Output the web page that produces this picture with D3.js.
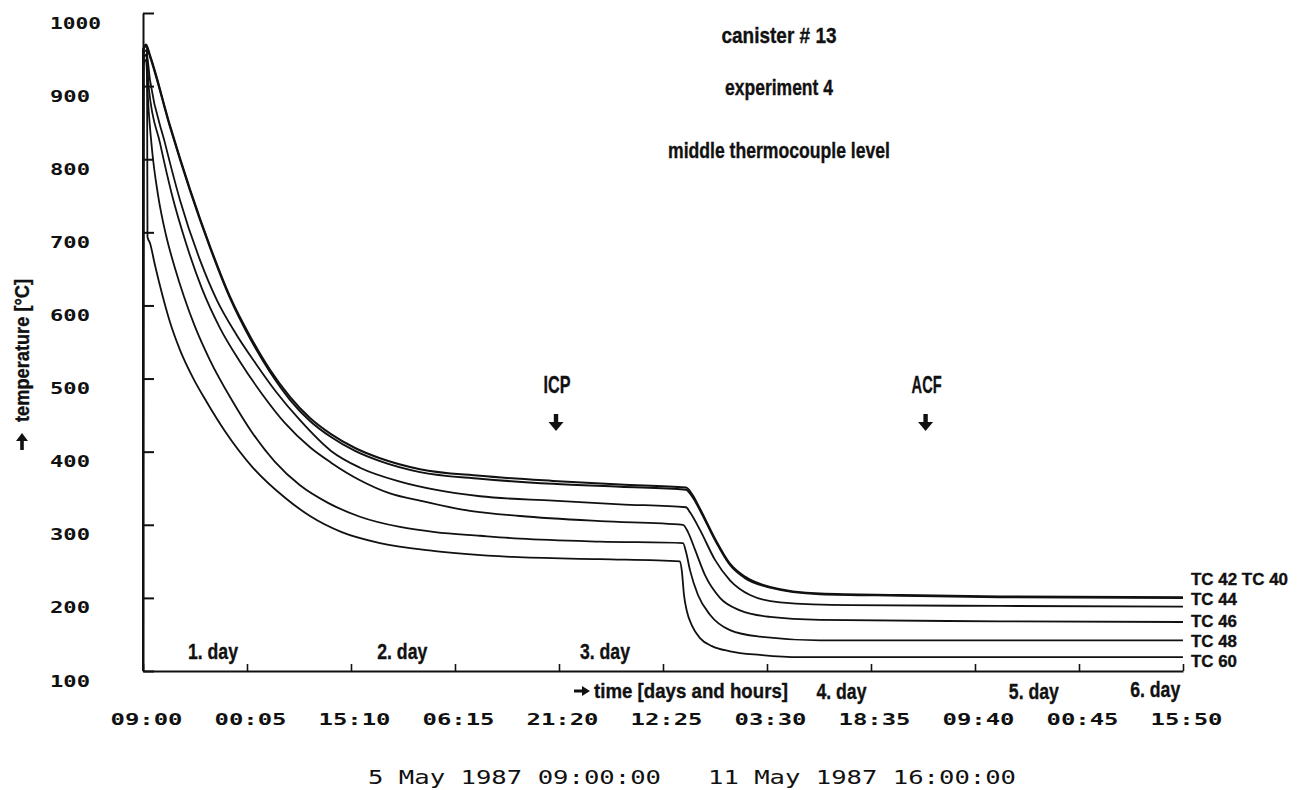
<!DOCTYPE html>
<html>
<head>
<meta charset="utf-8">
<script src="https://cdn.jsdelivr.net/npm/d3@7"></script>
<style>
  body { margin: 0; background: #fff; }
  svg { display: block; }
  .bold { font-family: "Liberation Sans Narrow", "Liberation Sans", Arial, sans-serif; font-weight: bold; fill: #111; stroke: #111; stroke-width: 0.35; }
  .mono { font-family: "DejaVu Sans Mono", "Liberation Mono", monospace; fill: #111; }
</style>
</head>
<body>
<svg id="chart" width="1303" height="790"></svg>
<script>
// ---- data: time in hours after 5 May 1987 09:00, temperature in °C ----
const hoursPerTick = 905 / 60;           // one tick = 15 h 05 min
const timeTickLabels = ["09:00", "00:05", "15:10", "06:15", "21:20", "12:25",
                        "03:30", "18:35", "09:40", "00:45", "15:50"];
const tempTicks = [100, 200, 300, 400, 500, 600, 700, 800, 900, 1000];

const tc40 = [[0,100],[0.04,951],[0.44,957],[1.02,942],[3.92,846],[6.82,759],[9.72,681],[12.62,612],
  [15.52,558],[18.42,512],[21.32,475],[24.22,446],[27.27,424],[30.75,405],[34.37,391],[40.17,376],
  [48.88,367],[59.46,360],[69.18,355],[78.75,351],[79.62,342],[80.78,322],[82.96,281],[85.13,247],
  [87.31,229],[90.94,215],[98.19,206],[109.79,204],[124.29,202],[150.83,201]];
const tc42 = [[0,100],[0.04,949],[0.44,955],[1.02,940],[3.92,844],[6.82,757],[9.72,679],[12.62,610],
  [15.52,555],[18.42,509],[21.32,471],[24.22,442],[27.27,420],[30.75,401],[34.37,387],[40.17,372],
  [48.88,363],[59.46,356],[69.18,352],[78.75,348],[79.62,339],[80.78,320],[82.96,279],[85.13,245],
  [87.31,227],[90.94,214],[98.19,205],[109.79,203],[124.29,201],[150.83,200]];
const tc44 = [[0,100],[0.04,943],[0.44,949],[1.02,908],[3.19,822],[5.37,744],[8.27,662],[10.73,607],
  [13.49,561],[16.39,520],[19.29,482],[22.77,443],[27.27,401],[31.47,378],[37.27,359],[42.35,348],
  [48.88,339],[59.46,333],[69.18,328],[78.75,324],[79.33,317],[80.78,293],[82.96,252],[85.13,224],
  [88.04,204],[92.39,194],[102.54,190],[124.29,189],[150.83,188]];
const tc46 = [[0,100],[0.04,936],[0.44,943],[0.87,895],[2.47,822],[4.21,751],[6.24,685],[8.51,624],
  [11.17,569],[14.07,523],[17.26,479],[20.60,439],[24.22,406],[27.27,385],[31.47,361],[35.82,343],
  [40.17,333],[47.43,319],[54.68,312],[66.28,305],[78.32,300],[79.04,290],[80.06,266],[81.51,231],
  [83.68,200],[86.58,183],[90.94,174],[98.19,170],[124.29,168],[150.83,167]];
const tc48 = [[0,100],[0.04,929],[0.44,936],[0.73,881],[1.31,813],[2.18,751],[3.34,696],[4.64,651],
  [5.95,612],[7.54,571],[9.72,525],[12.86,471],[15.77,427],[19.14,386],[22.77,354],[26.83,330],
  [31.47,311],[37.27,297],[42.35,290],[48.88,285],[54.68,281],[66.28,277],[78.32,275],[78.75,263],
  [79.33,238],[80.49,204],[82.23,177],[85.13,156],[89.49,147],[98.19,142],[124.29,142],[150.83,142]];
const tc60 = [[0,100],[0.04,949],[0.44,955],[0.58,952],[0.65,694],[1.02,685],[1.74,655],[2.76,616],
  [3.92,577],[5.37,539],[7.25,501],[9.24,468],[11.89,428],[15.77,380],[20.60,337],[24.22,312],
  [28.82,290],[34.37,275],[42.35,264],[53.66,256],[66.28,253],[77.88,250],[78.17,235],[78.46,204],
  [78.90,181],[79.62,162],[80.78,145],[82.52,134],[85.13,127],[89.49,122],[95.29,119],[124.29,119],
  [150.83,119]];

const seriesList = [tc40, tc42, tc44, tc46, tc48, tc60];
const seriesLabels = ["TC 42 TC 40", "TC 44", "TC 46", "TC 48", "TC 60"];

const dayLabels = ["1. day", "2. day", "3. day", "4. day", "5. day", "6. day"];
const dayHours = [10.15, 37.6, 67.0, 101.3, 129.2, 146.8];
const eventLabels = ["ICP", "ACF"];
const eventHours = [59.9, 113.5];
const dateLabels = ["5 May 1987 09:00:00", "11 May 1987 16:00:00"];

// ---- layout ----
const svg = d3.select("#chart");
const x = d3.scaleLinear().domain([0, 10 * hoursPerTick]).range([143, 1183]);
const y = d3.scaleLinear().domain([100, 1000]).range([671, 13]);
const ink = "#111";

// filled arrow pointing along +x, tail at origin
function arrowPath(len, headLen, headHalf, stemHalf) {
  return `M0,${-stemHalf}L${len - headLen},${-stemHalf}L${len - headLen},${-headHalf}` +
         `L${len},0L${len - headLen},${headHalf}L${len - headLen},${stemHalf}L0,${stemHalf}Z`;
}

// y axis: ticks point inward, labels left-aligned far to the left
const gy = svg.append("g").attr("transform", "translate(143,0)")
  .call(d3.axisLeft(y).tickValues(tempTicks).tickSizeInner(-11).tickSizeOuter(0)
        .tickFormat(d3.format("d")));
gy.select(".domain").attr("stroke", ink).attr("stroke-width", 2);
gy.selectAll(".tick line").attr("stroke", ink).attr("stroke-width", 2);
gy.selectAll(".tick text")
  .attr("class", "mono")
  .attr("font-size", 16).attr("font-weight", "bold")
  .attr("text-anchor", "start").attr("x", -93).attr("dy", null).attr("y", 15)
  .attr("textLength", d => String(d).length === 4 ? 51 : 40)
  .attr("lengthAdjust", "spacingAndGlyphs");

// x axis: short upward ticks, clock-time labels below
const gx = svg.append("g").attr("transform", "translate(0,671)")
  .call(d3.axisBottom(x).tickValues(d3.range(11).map(i => i * hoursPerTick))
        .tickSizeInner(-7).tickSizeOuter(0).tickFormat((d, i) => timeTickLabels[i]));
gx.select(".domain").attr("stroke", ink).attr("stroke-width", 2);
gx.selectAll(".tick line").attr("stroke", ink).attr("stroke-width", 1.6);
gx.selectAll(".tick text")
  .attr("class", "mono")
  .attr("font-size", 16).attr("font-weight", "bold")
  .attr("dy", null).attr("y", 54).attr("x", 3)
  .attr("textLength", 72).attr("lengthAdjust", "spacingAndGlyphs");

// temperature curves
const line = d3.line().x(d => x(d[0])).y(d => y(d[1])).curve(d3.curveMonotoneX);
svg.append("g").selectAll("path").data(seriesList).join("path")
  .attr("d", line)
  .attr("fill", "none").attr("stroke", ink)
  .attr("stroke-width", (d, i) => i < 2 ? 2 : 1.8)
  .attr("stroke-linejoin", "round");

// series names at the right end
const labelBaselines = [585, 605, 627, 647, 667];
const labelWidths = [97, 46, 46, 46, 46];
svg.append("g").selectAll("text").data(seriesLabels).join("text")
  .attr("class", "bold").attr("font-size", 17)
  .attr("x", 1191).attr("y", (d, i) => labelBaselines[i])
  .attr("textLength", (d, i) => labelWidths[i]).attr("lengthAdjust", "spacingAndGlyphs")
  .text(d => d);

// day labels: first three above the axis, the rest below
svg.append("g").selectAll("text").data(dayLabels).join("text")
  .attr("class", "bold").attr("font-size", 22).attr("text-anchor", "middle")
  .attr("x", (d, i) => x(dayHours[i]))
  .attr("y", (d, i) => i < 3 ? 659 : (i === 5 ? 697 : 699))
  .attr("textLength", 50).attr("lengthAdjust", "spacingAndGlyphs")
  .text(d => d);

// event markers with down arrows
const ev = svg.append("g").selectAll("g").data(eventLabels).join("g")
  .attr("transform", (d, i) => `translate(${x(eventHours[i])},0)`);
ev.append("text").attr("class", "bold").attr("font-size", 24)
  .attr("text-anchor", "middle").attr("x", 1).attr("y", 393)
  .attr("textLength", (d) => d === "ICP" ? 27 : 30).attr("lengthAdjust", "spacingAndGlyphs")
  .text(d => d);
ev.append("path").attr("d", arrowPath(17, 9, 7.5, 2.2))
  .attr("transform", "translate(0,414) rotate(90)").attr("fill", ink);

// titles
const titles = [["canister # 13", 43, 115], ["experiment 4", 95, 108], ["middle thermocouple level", 158, 222]];
svg.append("g").selectAll("text").data(titles).join("text")
  .attr("class", "bold").attr("font-size", 22).attr("text-anchor", "middle")
  .attr("x", 779).attr("y", d => d[1])
  .attr("textLength", d => d[2]).attr("lengthAdjust", "spacingAndGlyphs")
  .text(d => d[0]);

// x axis title
svg.append("path").attr("d", arrowPath(16, 8, 5, 1.6))
  .attr("transform", "translate(574,691)").attr("fill", ink);
svg.append("text").attr("class", "bold").attr("font-size", 21)
  .attr("x", 594).attr("y", 698)
  .attr("textLength", 194).attr("lengthAdjust", "spacingAndGlyphs")
  .text("time [days and hours]");

// y axis title, reading upward
svg.append("path").attr("d", arrowPath(17, 8, 6, 1.8))
  .attr("transform", "translate(22,450) rotate(-90)").attr("fill", ink);
svg.append("text").attr("class", "bold").attr("font-size", 20)
  .attr("transform", "translate(29,422) rotate(-90)")
  .attr("textLength", 143).attr("lengthAdjust", "spacingAndGlyphs")
  .text("temperature [°C]");

// start / end timestamps
const dateStarts = [368, 708];
const dateWidths = [293, 308];
svg.append("g").selectAll("text").data(dateLabels).join("text")
  .attr("class", "mono").attr("font-size", 20)
  .attr("x", (d, i) => dateStarts[i]).attr("y", 784)
  .attr("textLength", (d, i) => dateWidths[i]).attr("lengthAdjust", "spacingAndGlyphs")
  .text(d => d);
</script>
</body>
</html>
